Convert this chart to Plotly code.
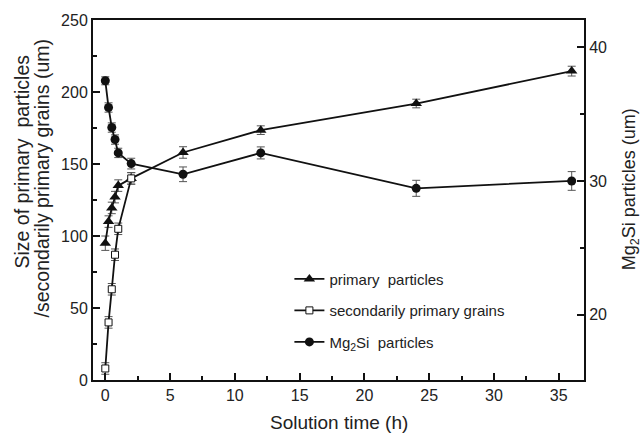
import plotly.graph_objects as go

# Solution time (h)
time_primary = [0, 0.25, 0.5, 0.75, 1, 2, 6, 12, 24, 36]
size_primary = [95, 110, 119.5, 127, 135, 140, 158, 173.5, 192, 214.5]
err_primary = [5, 4, 4, 4, 4, 4, 4, 3, 3, 3.4]

time_secondary = [0, 0.25, 0.5, 0.75, 1, 2]
size_secondary = [8, 40, 63, 87, 105, 140]
err_secondary = [4, 4, 4, 4, 4, 4]

time_mg2si = [0, 0.25, 0.5, 0.75, 1, 2, 6, 12, 24, 36]
size_mg2si = [37.5, 35.5, 34.0, 33.1, 32.1, 31.3, 30.5, 32.1, 29.45, 30.0]
err_mg2si = [0.3, 0.35, 0.35, 0.35, 0.35, 0.4, 0.55, 0.45, 0.6, 0.7]

FONT = "Liberation Sans, Arial, sans-serif"
LINE = "#111111"
ERR = "#555555"

fig = go.Figure()

fig.add_trace(go.Scatter(
    x=time_primary, y=size_primary, mode="lines+markers",
    name="primary&nbsp; particles", legendgroup="a",
    line=dict(color=LINE, width=1.8),
    marker=dict(symbol="triangle-up", size=10, color=LINE),
    error_y=dict(type="data", array=err_primary, color=ERR, thickness=1, width=4),
))
fig.add_trace(go.Scatter(
    x=time_secondary, y=size_secondary, mode="lines+markers",
    name="secondarily primary grains", legendgroup="b",
    line=dict(color=LINE, width=1.8),
    marker=dict(symbol="square", size=7, color="white", line=dict(color=LINE, width=1)),
    error_y=dict(type="data", array=err_secondary, color=ERR, thickness=1, width=4),
))
fig.add_trace(go.Scatter(
    x=time_mg2si, y=size_mg2si, mode="lines+markers", yaxis="y2",
    name="Mg<sub>2</sub>Si&nbsp; particles", legendgroup="c",
    line=dict(color=LINE, width=1.8),
    marker=dict(symbol="circle", size=9, color=LINE),
    error_y=dict(type="data", array=err_mg2si, color=ERR, thickness=1, width=4),
))

axis_common = dict(
    showline=True, linecolor=LINE, linewidth=2, ticks="inside", ticklen=7,
    tickwidth=1.5, tickcolor=LINE, showgrid=False, zeroline=False,
    tickfont=dict(family=FONT, size=16, color="#222"),
)

fig.update_layout(
    width=642, height=436,
    margin=dict(l=93, r=58, t=16, b=56),
    paper_bgcolor="white", plot_bgcolor="white",
    font=dict(family=FONT, color="#222"),
    showlegend=True,
    legend=dict(
        x=0.40, y=0.326, xanchor="left", yanchor="top",
        bgcolor="rgba(0,0,0,0)", font=dict(family=FONT, size=15, color="#222"),
        tracegroupgap=9, itemsizing="trace",
    ),
    xaxis=dict(
        range=[-0.95, 36.95], dtick=5, tick0=0, mirror=True,
        minor=dict(ticks="inside", ticklen=4, dtick=2.5, tickcolor=LINE, tickwidth=1.5),
        **axis_common,
    ),
    yaxis=dict(
        range=[0, 250], dtick=50, tick0=0,
        minor=dict(ticks="inside", ticklen=4, dtick=25, tickcolor=LINE, tickwidth=1.5),
        **axis_common,
    ),
    yaxis2=dict(
        range=[15.1, 42.05], dtick=10, tick0=0, overlaying="y", side="right",
        minor=dict(ticks="inside", ticklen=4, dtick=5, tickcolor=LINE, tickwidth=1.5),
        **axis_common,
    ),
)

annots = [
    dict(text="Solution time (h)", x=0.5, y=0, xref="paper", yref="paper",
         xanchor="center", yanchor="middle", yshift=-42, showarrow=False,
         font=dict(family=FONT, size=19, color="#222")),
    dict(text="Size of primary&nbsp; particles", x=0, y=0.607, xref="paper", yref="paper",
         xanchor="center", yanchor="middle", xshift=-71, textangle=-90, showarrow=False,
         font=dict(family=FONT, size=19.5, color="#222")),
    dict(text="/secondarily primary grains (um)", x=0, y=0.56, xref="paper", yref="paper",
         xanchor="center", yanchor="middle", xshift=-51, textangle=-90, showarrow=False,
         font=dict(family=FONT, size=19.5, color="#222")),
    dict(text="Mg<sub>2</sub>Si particles (um)", x=1, y=0.53, xref="paper", yref="paper",
         xanchor="center", yanchor="middle", xshift=46, textangle=-90, showarrow=False,
         font=dict(family=FONT, size=18, color="#222")),
]
fig.update_layout(annotations=annots)

fig.write_html("out.html")
